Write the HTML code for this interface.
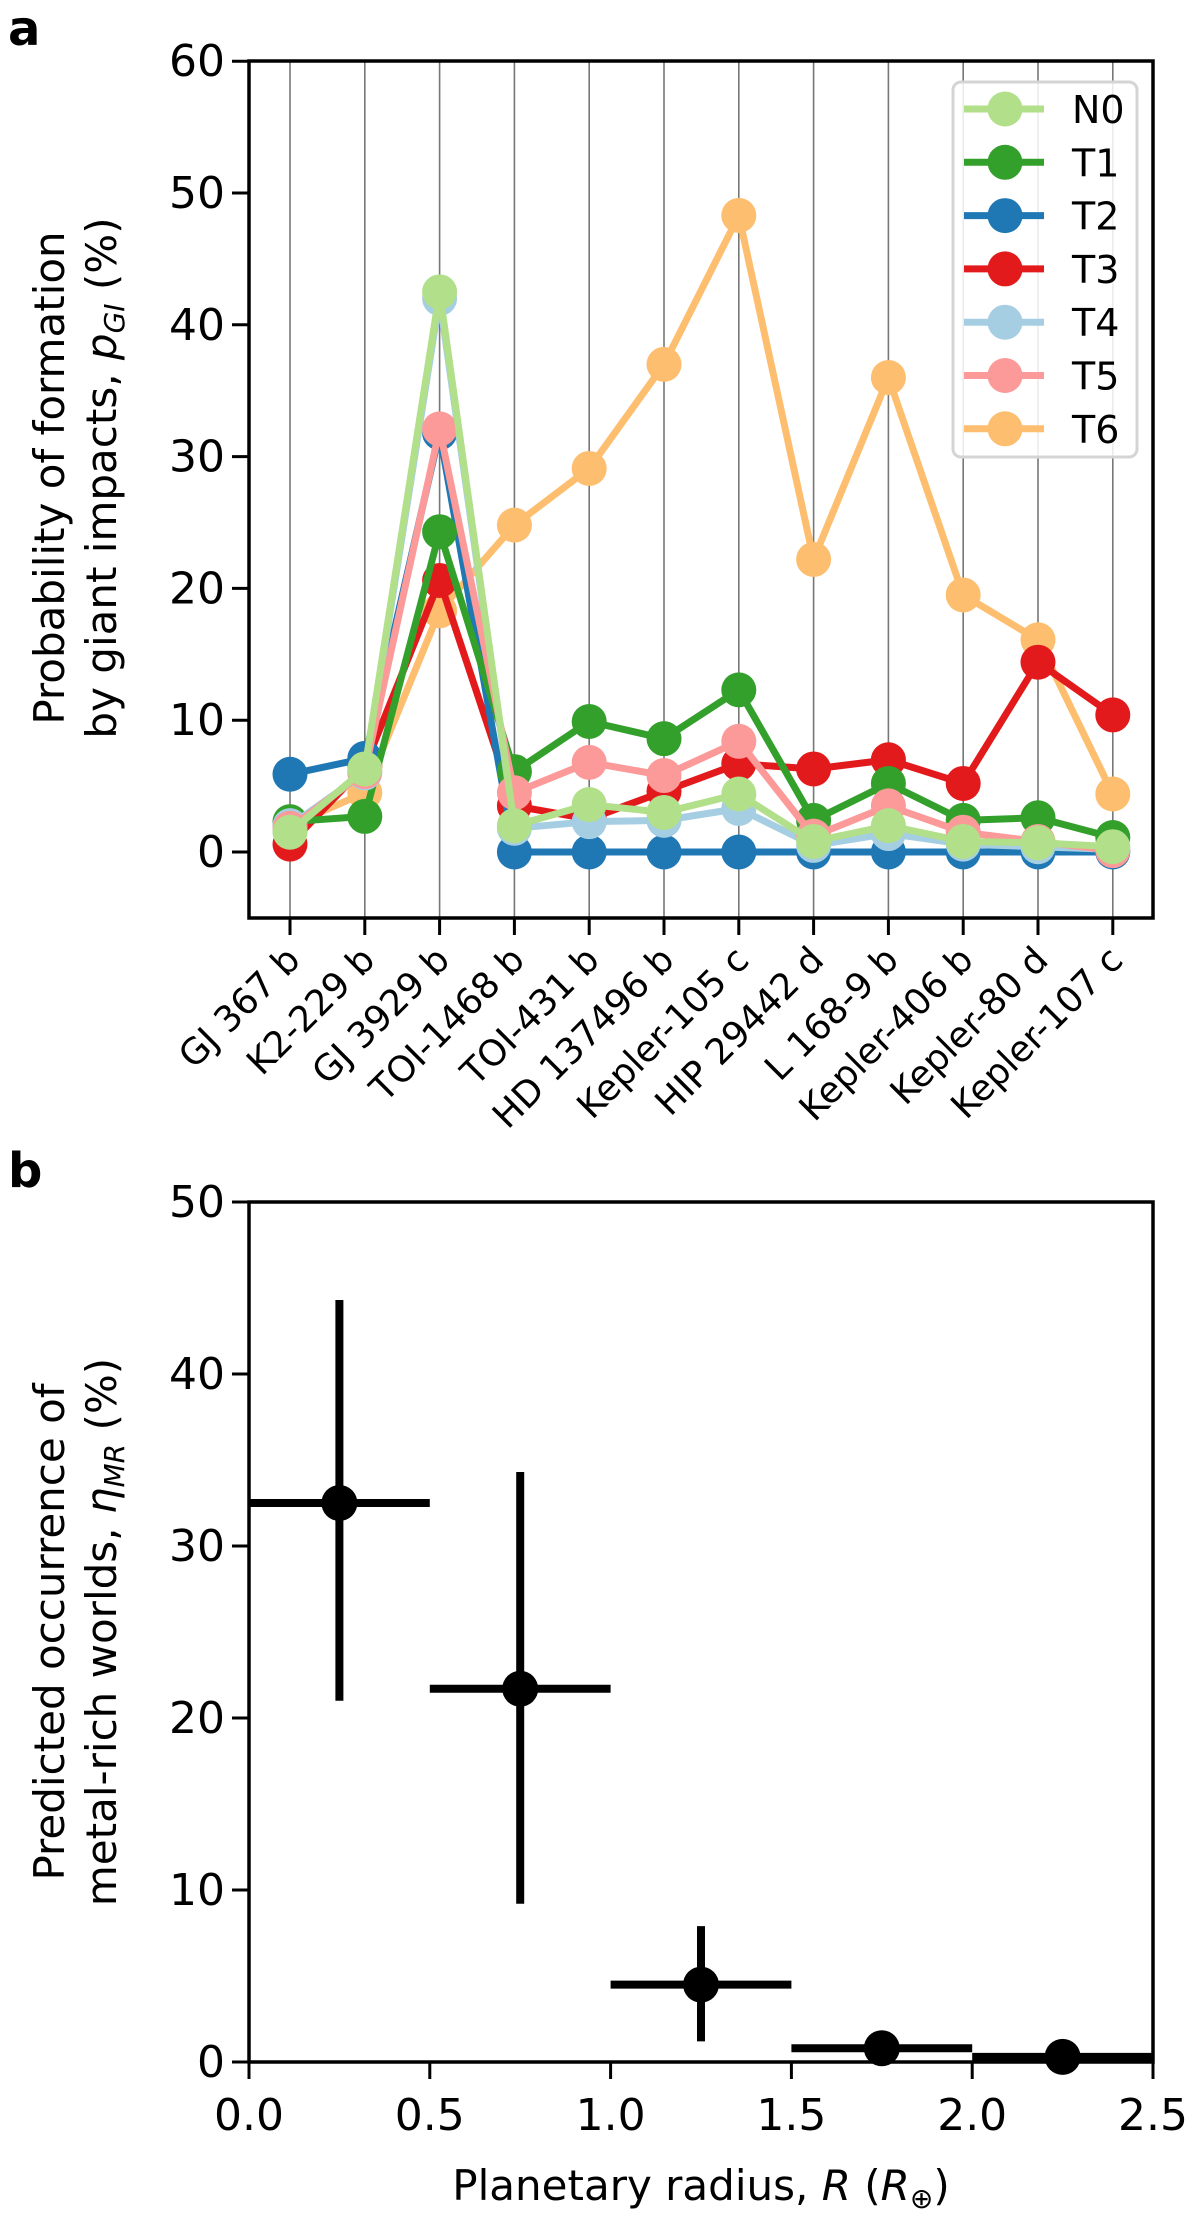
<!DOCTYPE html>
<html><head><meta charset="utf-8"><style>
body{margin:0;background:#fff}
svg{display:block;font-family:"DejaVu Sans","Liberation Sans",sans-serif}
</style></head><body>
<svg id="chart" width="1200" height="2219" viewBox="0 0 1200 2219" xmlns="http://www.w3.org/2000/svg">
<g id="pa"></g>
<g id="pb"></g>
</svg>
<script>
const planets=["GJ 367 b","K2-229 b","GJ 3929 b","TOI-1468 b","TOI-431 b","HD 137496 b","Kepler-105 c","HIP 29442 d","L 168-9 b","Kepler-406 b","Kepler-80 d","Kepler-107 c"];
const seriesNames=["N0","T1","T2","T3","T4","T5","T6"];
const seriesColors=["#b2df8a","#33a02c","#1f78b4","#e31a1c","#a6cee3","#fb9a99","#fdbf6f"];
const valsN0=[1.5,6.3,42.5,2.0,3.6,3.0,4.4,0.8,2.0,0.8,0.7,0.4];
const valsT1=[2.3,2.7,24.3,6.1,9.9,8.6,12.3,2.4,5.2,2.4,2.6,1.1];
const valsT2=[5.9,7.1,31.8,0,0,0,0,0,0,0,0,0];
const valsT3=[0.6,6.5,20.6,3.5,2.5,4.6,6.7,6.3,7.0,5.2,14.4,10.4];
const valsT4=[2.0,6.0,42.0,1.8,2.3,2.4,3.3,0.5,1.4,0.6,0.4,0.2];
const valsT5=[1.8,6.1,32.1,4.5,6.8,5.8,8.4,1.2,3.5,1.5,0.8,0.1];
const valsT6=[2.0,4.5,18.3,24.8,29.1,37.0,48.3,22.2,36.0,19.5,16.1,4.4];
const yTicksA=[0,10,20,30,40,50,60];
const radiusBins=[0.25,0.75,1.25,1.75,2.25];
const binHalfWidth=[0.25,0.25,0.25,0.25,0.25];
const etaMR=[32.5,21.7,4.5,0.8,0.3];
const etaLow=[21.0,9.2,1.2,0.8,0.3];
const etaHigh=[44.3,34.3,7.9,0.8,0.3];
const xTicksB=[0,0.5,1.0,1.5,2.0,2.5];
const yTicksB=[0,10,20,30,40,50];

const NS="http://www.w3.org/2000/svg";
function mk(p,t,a,txt){const e=document.createElementNS(NS,t);for(const k in a)e.setAttribute(k,a[k]);if(txt!=null)e.textContent=txt;p.appendChild(e);return e;}

// Panel A
const A=document.getElementById('pa');
const aL=249,aR=1153,aT=61,aB=918;
const xa=i=>290+i*74.8;
const ya=v=>852-v*13.18;
planets.forEach((p,i)=>{
  const g=mk(A,'line',{x1:xa(i),x2:xa(i),y1:aT,y2:aB,stroke:'#777','stroke-width':1.6});
  
  
  const t=mk(A,'line',{x1:xa(i),x2:xa(i),y1:aB,y2:aB+17,stroke:'#000','stroke-width':3});
  
  
  const l=mk(A,'text',{x:0,y:0,'font-size':36,'text-anchor':'end',transform:`translate(${xa(i)+12},${aB+44}) rotate(-45)`},p);
  
  
});
yTicksA.forEach(v=>{
  const t=mk(A,'line',{x1:aL-17,x2:aL,y1:ya(v),y2:ya(v),stroke:'#000','stroke-width':3});
  
  
  const l=mk(A,'text',{x:aL-24,y:ya(v)+15,'font-size':44,'text-anchor':'end'},String(v));
  
  
});
const allVals=[valsN0,valsT1,valsT2,valsT3,valsT4,valsT5,valsT6];
const drawOrder=[6,3,2,1,4,5,0];
drawOrder.forEach(s=>{
  const g=mk(A,'g',{});
  
  
  const pts=allVals[s].map((v,i)=>xa(i)+','+ya(v)).join(' ');
  const pl=mk(g,'polyline',{points:pts,fill:'none',stroke:seriesColors[s],'stroke-width':7,'stroke-linejoin':'round'});
  
  
  allVals[s].forEach((v,i)=>{
    const c=mk(g,'circle',{cx:xa(i),cy:ya(v),r:17.5,fill:seriesColors[s]});
    
    
  });
});
const fa=mk(A,'rect',{x:aL,y:aT,width:aR-aL,height:aB-aT,fill:'none',stroke:'#000','stroke-width':3.5});


// legend
const lg=mk(A,'g',{});


mk(lg,'rect',{x:953,y:82,width:184,height:375,rx:8,fill:'rgba(255,255,255,0.85)',stroke:'#d4d4d4','stroke-width':3});
seriesNames.forEach((n,s)=>{
  const y=109+s*53.3;
  const e=mk(lg,'g',{});
  
  
  mk(e,'line',{x1:964,x2:1044,y1:y,y2:y,stroke:seriesColors[s],'stroke-width':7});
  mk(e,'circle',{cx:1005,cy:y,r:17.5,fill:seriesColors[s]});
  mk(e,'text',{x:1072,y:y+14,'font-size':38},n);
});
const la=mk(A,'text',{x:8,y:45,'font-size':48,'font-weight':'bold'},'a');


const ya1=mk(A,'text',{x:0,y:0,'font-size':42,'text-anchor':'middle',transform:'translate(64,478) rotate(-90)'},'Probability of formation');


const ya2=mk(A,'text',{x:0,y:0,'font-size':42,'text-anchor':'middle',transform:'translate(116,478) rotate(-90)'});


ya2.innerHTML='by giant impacts, <tspan font-style="italic">p</tspan><tspan font-style="italic" font-size="28" dy="8">GI</tspan><tspan dy="-8"> (%)</tspan>';

// Panel B
const B=document.getElementById('pb');
const bL=249,bR=1153,bT=1202,bB=2062;
const xb=v=>bL+v*(bR-bL)/2.5;
const yb=v=>bB-v*(bB-bT)/50;
xTicksB.forEach(v=>{
  const t=mk(B,'line',{x1:xb(v),x2:xb(v),y1:bB,y2:bB+17,stroke:'#000','stroke-width':3});
  
  
  const l=mk(B,'text',{x:xb(v),y:bB+68,'font-size':44,'text-anchor':'middle'},v.toFixed(1));
  
  
});
yTicksB.forEach(v=>{
  const t=mk(B,'line',{x1:bL-17,x2:bL,y1:yb(v),y2:yb(v),stroke:'#000','stroke-width':3});
  
  
  const l=mk(B,'text',{x:bL-24,y:yb(v)+15,'font-size':44,'text-anchor':'end'},String(v));
  
  
});
radiusBins.forEach((r,i)=>{
  const g=mk(B,'g',{});
  
  
  mk(g,'line',{x1:xb(r-binHalfWidth[i]),x2:xb(r+binHalfWidth[i]),y1:yb(etaMR[i]),y2:yb(etaMR[i]),stroke:'#000','stroke-width':8});
  mk(g,'line',{x1:xb(r),x2:xb(r),y1:yb(etaLow[i]),y2:yb(etaHigh[i]),stroke:'#000','stroke-width':8});
  mk(g,'circle',{cx:xb(r),cy:yb(etaMR[i]),r:18,fill:'#000'});
});
const fb=mk(B,'rect',{x:bL,y:bT,width:bR-bL,height:bB-bT,fill:'none',stroke:'#000','stroke-width':3.5});


const lb=mk(B,'text',{x:8,y:1187,'font-size':48,'font-weight':'bold'},'b');


const xt=mk(B,'text',{x:701,y:2200,'font-size':42,'text-anchor':'middle'});


xt.innerHTML='Planetary radius, <tspan font-style="italic">R</tspan> (<tspan font-style="italic">R</tspan><tspan font-size="28" dy="8">⊕</tspan><tspan dy="-8">)</tspan>';
const yb1=mk(B,'text',{x:0,y:0,'font-size':42,'text-anchor':'middle',transform:'translate(64,1632) rotate(-90)'},'Predicted occurrence of');


const yb2=mk(B,'text',{x:0,y:0,'font-size':42,'text-anchor':'middle',transform:'translate(116,1632) rotate(-90)'});


yb2.innerHTML='metal-rich worlds, <tspan font-style="italic">η</tspan><tspan font-style="italic" font-size="28" dy="8">MR</tspan><tspan dy="-8"> (%)</tspan>';
</script>
</body></html>
